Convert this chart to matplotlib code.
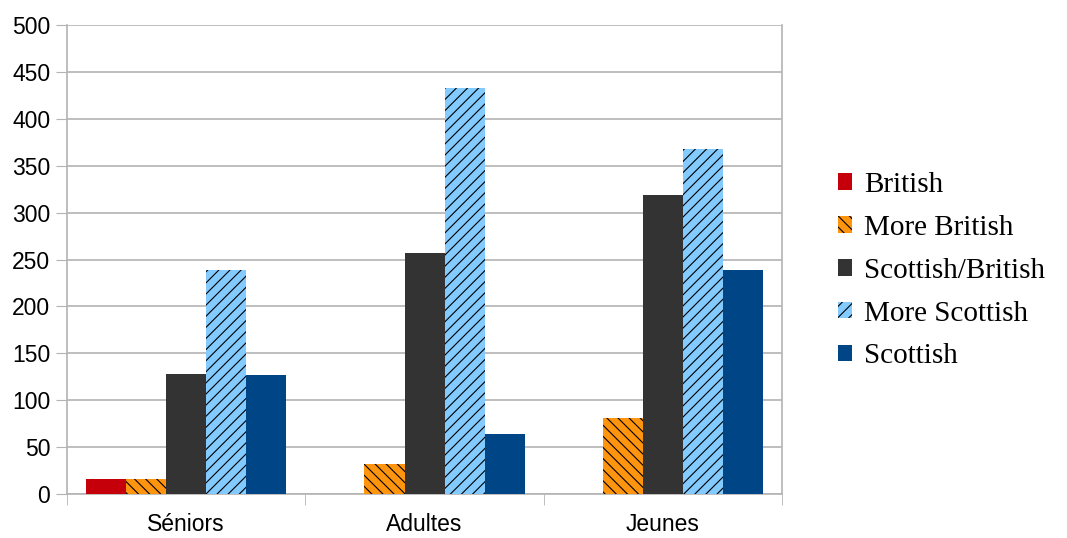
import numpy as np
import matplotlib
matplotlib.use('Agg')
import matplotlib.pyplot as plt

categories = ['Séniors', 'Adultes', 'Jeunes']
series_names = ['British', 'More British', 'Scottish/British', 'More Scottish', 'Scottish']
british = [16, 0, 0]
more_british = [16, 32, 81]
scottish_british = [128, 257, 319]
more_scottish = [239, 433, 368]
scottish = [127, 64, 239]
y_ticks = [0, 50, 100, 150, 200, 250, 300, 350, 400, 450, 500]

values = [british, more_british, scottish_british, more_scottish, scottish]
colors = ['#c5000b', '#ff950e', '#333333', '#83caff', '#004586']
hatches = [None, '\\\\\\', None, '///', None]

plt.rcParams['hatch.linewidth'] = 0.8

fig = plt.figure(figsize=(10.67, 5.38), dpi=100)
ax = fig.add_axes([0.0628, 0.0818, 0.6702, 0.8717])

x = np.arange(len(categories))
width = 0.84 / len(series_names)
for i, (name, vals) in enumerate(zip(series_names, values)):
    offs = (i - (len(series_names) - 1) / 2) * width
    ax.bar(x + offs, vals, width, color=colors[i], hatch=hatches[i],
           edgecolor='black', linewidth=0, label=name, zorder=3)

grid_col = '#b3b3b3'
ax.set_xlim(-0.5, len(categories) - 0.5)
ax.set_ylim(0, 500)
ax.set_yticks(y_ticks)
ax.set_yticklabels([str(v) for v in y_ticks], family='Liberation Sans', fontsize=16.5)
ax.set_xticks(x)
ax.set_xticklabels(categories, family='Liberation Sans', fontsize=16.5)
ax.set_xticks(np.arange(-0.5, len(categories), 1.0), minor=True)
ax.tick_params(axis='x', which='major', length=0, pad=14)
ax.tick_params(axis='x', which='minor', length=8, color=grid_col, direction='out')
ax.tick_params(axis='y', length=8, color=grid_col, direction='out', pad=4)
ax.grid(axis='y', color=grid_col, linewidth=1.2, zorder=0)
for sp in ax.spines.values():
    sp.set_color(grid_col)
    sp.set_linewidth(1.2)
ax.spines['top'].set_visible(False)

fig.legend(loc='center left', bbox_to_anchor=(0.774, 0.497), frameon=False,
           prop={'family': 'Liberation Serif', 'size': 21},
           handlelength=0.5, handleheight=0.5, handletextpad=0.4,
           labelspacing=0.58, borderaxespad=0)

fig.savefig('out.png', dpi=100)
